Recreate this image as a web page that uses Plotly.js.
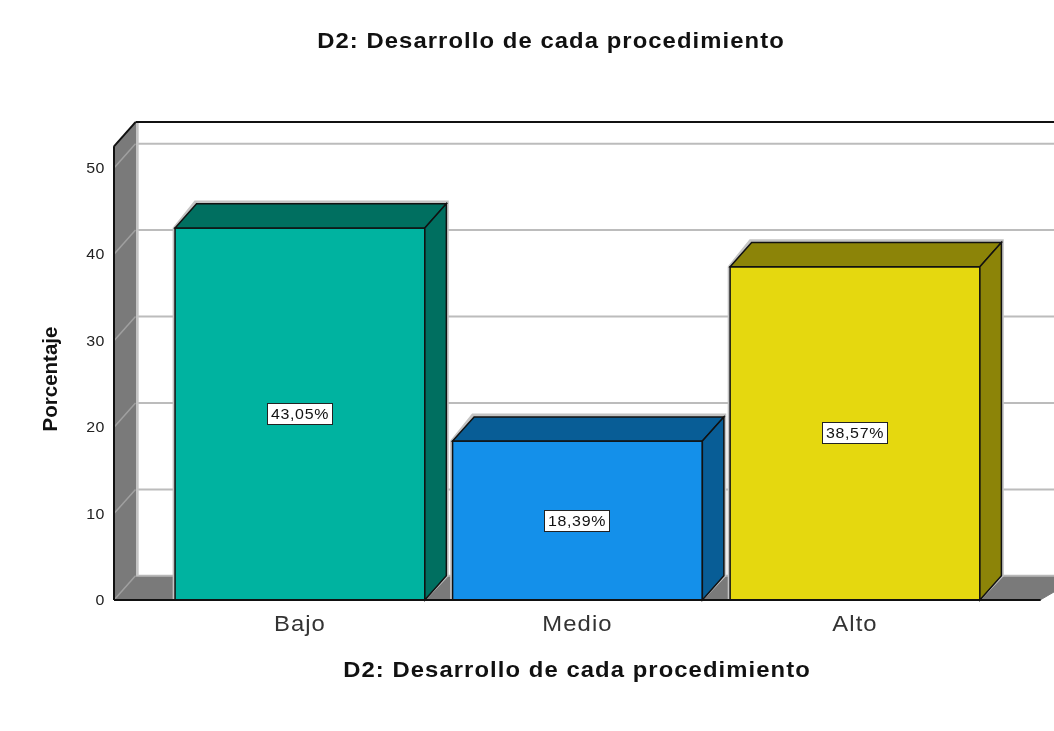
<!DOCTYPE html>
<html>
<head>
<meta charset="utf-8">
<script src="https://cdn.plot.ly/plotly-3.0.1.min.js"></script>
<style>
html,body{margin:0;padding:0;background:#fff;overflow:hidden}
#chart{width:1054px;height:731px;filter:blur(0.75px)}
.gtitle,.xtitle,.xtick text{letter-spacing:1px}
.ytick text{letter-spacing:.5px}
.annotation-text{letter-spacing:.6px}
</style>
</head>
<body>
<div id="chart"></div>
<script>
var categories = ['Bajo', 'Medio', 'Alto'];
var values = [43.05, 18.39, 38.57];
var valueLabels = ['43,05%', '18,39%', '38,57%'];
var faceColors = ['#00b3a0', '#1490ea', '#e5d80f'];
var shadeColors = ['#006f60', '#085d96', '#8c8408'];
var yTicks = [0, 10, 20, 30, 40, 50];
var chartTitle = 'D2: Desarrollo de cada procedimiento';
var yTitle = 'Porcentaje';

var xPos = categories.map(function (_, i) { return i; });
var barW = 0.9, half = barW / 2;
var dx = 0.0775, dy = 2.8;       // oblique depth of the fake 3D box
var xMin = -0.670, xMax = 2.717, yMax = 56.7;
var xPad = 0.0108, yPad = 0.347; // small room so the front edges are not clipped
var wallTop = 52.5;              // value height of the front edge of the walls
var wallGray = '#7a7a7a', gridGray = '#bcbcbc', ink = '#111';
var titleStretch = 1.06, tickStretch = 1.06, smallStretch = 1.1; // reference text is horizontally widened

function poly(pts) {
  return 'M' + pts.map(function (p) { return p[0] + ',' + p[1]; }).join(' L') + ' Z';
}
function pathShape(pts, fill, lineColor, w, layer) {
  return {type: 'path', xref: 'x', yref: 'y', layer: layer, path: poly(pts),
          fillcolor: fill, line: {color: lineColor, width: w}};
}
function seg(x0, y0, x1, y1, color, w, layer) {
  return {type: 'line', xref: 'x', yref: 'y', layer: layer, x0: x0, y0: y0, x1: x1, y1: y1,
          line: {color: color, width: w}};
}

var shapes = [];
// back wall grid lines
yTicks.slice(1).forEach(function (t) {
  shapes.push(seg(dx + xMin, t + dy, xMax, t + dy, gridGray, 2, 'below'));
});
// floor
shapes.push(pathShape([[xMin, 0], [xMin + dx, dy], [xMax + 0.1, dy], [xMax - 0.05, 0]], wallGray, wallGray, 1, 'below'));
shapes.push(seg(xMin + dx, dy, xMax, dy, '#b8b8b8', 2, 'below'));
// left wall
shapes.push(seg(xMin + dx + 0.006, dy, xMin + dx + 0.006, wallTop + dy, '#c4c4c4', 3, 'below'));
shapes.push(pathShape([[xMin, 0], [xMin + dx, dy], [xMin + dx, wallTop + dy], [xMin, wallTop]], wallGray, wallGray, 1, 'below'));
yTicks.forEach(function (t) {
  shapes.push(seg(xMin, t, xMin + dx, t + dy, '#a0a0a0', 1.5, 'below'));
});
// wall outlines
shapes.push(seg(xMin, 0, xMin, wallTop, ink, 2, 'below'));
shapes.push(seg(xMin, wallTop, xMin + dx, wallTop + dy, ink, 2, 'below'));
shapes.push(seg(xMin + dx, wallTop + dy, xMax, wallTop + dy, ink, 2, 'below'));

// bar halos and faces, all derived from the values
xPos.forEach(function (x, i) {
  var v = values[i], l = x - half, r = x + half;
  var pad = 0.006;
  shapes.push(pathShape([[l - pad, 0], [l - pad, v], [l + dx - pad, v + dy + 0.3], [r + dx + pad, v + dy + 0.3], [r + dx + pad, dy], [r, 0]],
    '#c4c4c4', '#c4c4c4', 1.5, 'below'));
  shapes.push(pathShape([[l, v], [l + dx, v + dy], [r + dx, v + dy], [r, v]], shadeColors[i], ink, 1.5, 'above'));
  shapes.push(pathShape([[r, 0], [r + dx, dy], [r + dx, v + dy], [r, v]], shadeColors[i], ink, 1.5, 'above'));
});
// baseline
shapes.push(seg(xMin, 0, xMax - 0.048, 0, ink, 2, 'above'));

var annotations = xPos.map(function (x, i) {
  return {x: x, y: values[i] / 2, xref: 'x', yref: 'y', text: valueLabels[i], showarrow: false,
          font: {family: 'Liberation Sans', size: 14.5, color: '#111'},
          width: 60, align: 'center',
          bgcolor: '#fff', bordercolor: '#222', borderwidth: 1, borderpad: 2,
          xanchor: 'center', yanchor: 'middle'};
});

var trace = {
  type: 'bar', x: xPos, y: values, width: barW,
  marker: {color: faceColors, line: {color: ink, width: 1.5}},
  hoverinfo: 'skip', showlegend: false
};

var layout = {
  width: 1054, height: 731,
  margin: {l: 111, r: 0, t: 110, b: 128, pad: 0},
  paper_bgcolor: '#fff', plot_bgcolor: '#fff',
  showlegend: false,
  font: {family: 'Liberation Sans', color: '#111'},
  title: {text: '<b>' + chartTitle + '</b>', x: 551 / 1054, xanchor: 'center', xref: 'container',
          y: 1 - 40 / 731, yanchor: 'middle', yref: 'container',
          font: {family: 'Liberation Sans', size: 22.5, color: '#111'}},
  xaxis: {
    range: [xMin - xPad, xMax], tickmode: 'array', tickvals: xPos, ticktext: categories,
    showgrid: false, zeroline: false, showline: false, ticks: '', fixedrange: true,
    ticklabelstandoff: 4,
    tickfont: {family: 'Liberation Sans', size: 22.5, color: '#333'},
    title: {text: '<b>' + chartTitle + '</b>', standoff: 26,
            font: {family: 'Liberation Sans', size: 22.5, color: '#111'}}
  },
  yaxis: {
    range: [-yPad, yMax], tickmode: 'array', tickvals: yTicks,
    showgrid: false, zeroline: false, showline: false, ticks: '', fixedrange: true,
    ticklabelstandoff: 5,
    tickfont: {family: 'Liberation Sans', size: 14.5, color: '#222'},
    title: {text: '<b>' + yTitle + '</b>', standoff: 24,
            font: {family: 'Liberation Sans', size: 20.5, color: '#111'}}
  },
  shapes: shapes,
  annotations: annotations
};

function nudge(selector, tx, ty) {
  var el = document.querySelector(selector);
  if (el) el.setAttribute('transform', 'translate(' + tx + ',' + ty + ') ' + (el.getAttribute('transform') || ''));
}
function widen(selector, factor) {
  document.querySelectorAll(selector).forEach(function (el) {
    el.setAttribute('textLength', el.getComputedTextLength() * factor);
    el.setAttribute('lengthAdjust', 'spacingAndGlyphs');
  });
}
Plotly.newPlot('chart', [trace], layout, {staticPlot: true, displayModeBar: false}).then(function () {
  widen('.gtitle', titleStretch);
  widen('.xtitle', titleStretch);
  widen('.xtick text', tickStretch);
  widen('.ytick text', smallStretch);
  widen('.annotation-text', smallStretch);
  nudge('.xtitle', -5.5, 0);
  nudge('.ytitle', 0, 22.5);
});
</script>
</body>
</html>
